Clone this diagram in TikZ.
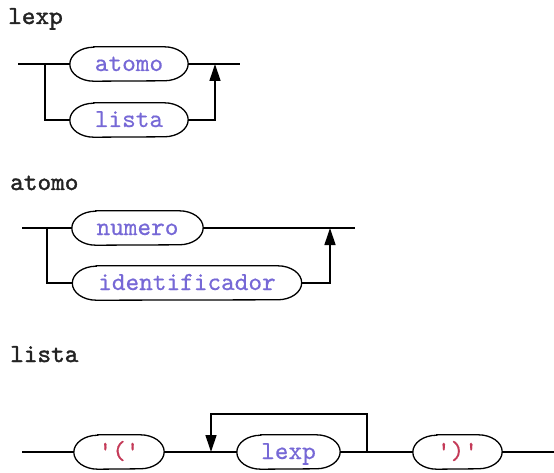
\documentclass[tikz,border=0pt]{standalone}
\usepackage{fontspec}
\newfontfamily\headfont[FakeBold=1.4]{lmmono10-regular.otf}
\newfontfamily\termfont[FakeBold=0.5]{lmmono10-regular.otf}
\usetikzlibrary{arrows.meta}
\definecolor{ntext}{RGB}{118,104,214}
\definecolor{qtext}{RGB}{196,58,88}
\definecolor{htext}{RGB}{35,35,35}
\newcommand\rr{24pt}
\newcommand\hh{17pt}
\newcommand\stadium[1]{\draw[conn] ([xshift=\rr]#1.north west) -- ([xshift=-\rr]#1.north east)
  arc[start angle=90,end angle=-90,x radius=\rr,y radius=\hh] -- ([xshift=\rr]#1.south west)
  arc[start angle=270,end angle=90,x radius=\rr,y radius=\hh] -- cycle;}
\tikzset{
  conn/.style={line width=1.3pt,black},
  arr/.style={conn,-{Triangle[length=17pt,width=11pt]}},
  term/.style={minimum height=34pt,inner sep=0pt,text height=17pt,text depth=3pt,
    font=\termfont\fontsize{26}{26}\selectfont,text=ntext},
  head/.style={anchor=base west,inner sep=0pt,font=\headfont\fontsize{26}{26}\selectfont,text=htext},
}
\begin{document}
\begin{tikzpicture}[x=1pt,y=-1pt]
\useasboundingbox (0,0) rectangle (554,473);
% ---------- lexp ----------
\node[head] (hlexp) at (8,24) {lexp};
\node[term,minimum width=118pt] (la) at (129,64) {atomo};
\node[term,minimum width=118pt] (ll) at (129,120) {lista};
\stadium{la}\stadium{ll}
\coordinate (ls) at (18,64);
\coordinate (lb) at (45,64);
\coordinate (lb2) at (45,120);
\coordinate (lr2) at (215,120);
\coordinate (lr) at (215,64);
\coordinate (le) at (240,64);
\draw[conn] (ls) -- (la.west);
\draw[conn] (la.east) -- (le);
\draw[conn] (lb) -- (lb2) -- (ll.west);
\draw[arr] (ll.east) -- (lr2) -- (lr);
% ---------- atomo ----------
\node[head] (hatomo) at (10,190) {atomo};
\node[term,minimum width=131pt] (an) at (137.5,228) {numero};
\node[term,minimum width=229pt] (ai) at (187,283) {identificador};
\stadium{an}\stadium{ai}
\coordinate (as) at (22,228);
\coordinate (ab) at (47,228);
\coordinate (ab2) at (47,283);
\coordinate (ar2) at (330,283);
\coordinate (ar) at (330,228);
\coordinate (ae) at (355,228);
\draw[conn] (as) -- (an.west);
\draw[conn] (an.east) -- (ae);
\draw[conn] (ab) -- (ab2) -- (ai.west);
\draw[arr] (ai.east) -- (ar2) -- (ar);
% ---------- lista ----------
\node[head] (hlista) at (10,362) {lista};
\node[term,minimum width=90pt,text=qtext] (lo) at (119,452) {\char"27(\char"27};
\node[term,minimum width=103pt] (lx) at (288.5,452) {lexp};
\node[term,minimum width=89pt,text=qtext] (lc) at (457.5,452) {\char"27)\char"27};
\stadium{lo}\stadium{lx}\stadium{lc}
\coordinate (ss) at (22,452);
\coordinate (se) at (554,452);
\coordinate (sa) at (211,452);
\coordinate (sat) at (211,414);
\coordinate (sr) at (367,452);
\coordinate (srt) at (367,414);
\draw[conn] (ss) -- (lo.west);
\draw[conn] (lo.east) -- (lx.west);
\draw[conn] (lx.east) -- (lc.west);
\draw[conn] (lc.east) -- (se);
\draw[arr] (sr) -- (srt) -- (sat) -- (sa);
\end{tikzpicture}
\end{document}
